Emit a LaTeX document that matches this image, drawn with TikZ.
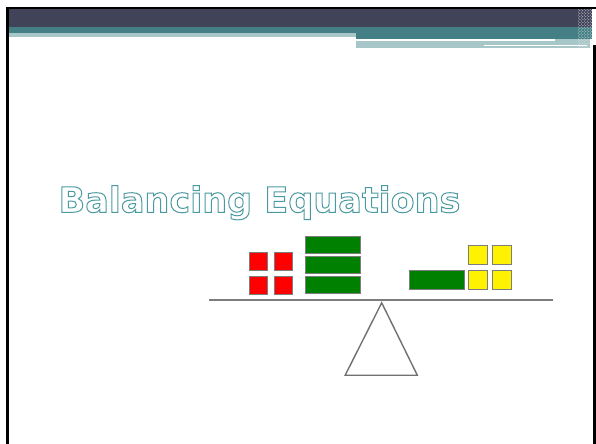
\documentclass[tikz,border=0pt]{standalone}
\usepackage{fontspec}
\newfontfamily\titlefont{DejaVu Sans}
\usetikzlibrary{positioning, patterns}
\definecolor{barslate}{RGB}{65,67,89}
\definecolor{barteal}{RGB}{67,127,132}
\definecolor{barlight}{RGB}{166,198,200}
\definecolor{titleteal}{RGB}{74,154,162}
\definecolor{blockgreen}{RGB}{0,128,0}
\definecolor{edgegray}{RGB}{125,125,125}

\begin{document}
\begin{tikzpicture}[
		x=1bp, y=-1bp,
		node distance = 6.6bp,
		tile/.style     = {draw=edgegray, line width=0.8bp, inner sep=0pt, outer sep=0pt},
		redsq/.style    = {tile, fill=red, minimum width=18.4bp, minimum height=18bp},
		greenbar/.style = {tile, fill=blockgreen, minimum width=54.3bp, minimum height=16.7bp},
		yellowsq/.style = {tile, fill=yellow, minimum width=19.4bp, minimum height=18.3bp},
		beam/.style     = {draw=edgegray, line width=1.8bp},
		fulcrum/.style  = {draw=edgegray!90!black, line width=1.4bp, line join=miter},
		frame/.style    = {draw=black, line width=2.6bp}
		]
		
		\useasboundingbox (0,0) rectangle (596,444);
		\fill[white] (0,0) rectangle (596,444);
		
		%% ── Header bars ───────────────────────────────────────────────
		\fill[barslate] (8,9) rectangle (592,27.3);
		\fill[barteal]  (8,27.3) rectangle (356,33.2);
		\fill[barteal]  (356,27.3) rectangle (592,38.6);
		\fill[barlight] (8,33.2) rectangle (356,36.8);
		\fill[barlight] (356,38.6) rectangle (590,47.6);
		\fill[white]    (356,39.3) rectangle (555,40.8);
		\fill[white]    (484,45) rectangle (587,46.2);
		\fill[pattern=crosshatch dots, pattern color=white!80!gray] (578,9) rectangle (592,48);
		
		% slide frame
		\draw[frame] (7.3,444) -- (7.3,7.9) -- (596,7.9);
		\draw[frame] (594.6,45) -- (594.6,444);
		
		%% ── Title ─────────────────────────────────────────────────────
		\node[anchor=base west, inner sep=0pt, text=titleteal,
		font=\titlefont\bfseries\fontsize{35bp}{40bp}\selectfont] (title) at (58.4,212.3)
		{\special{pdf:literal direct 1 Tr 1 w}Balancing Equations\special{pdf:literal direct 0 Tr}};
		
		%% ── Left pan ──────────────────────────────────────────────────
		\node[redsq] (r1) at (258.5,261.2) {};
		\node[redsq, right=of r1] (r2) {};
		\node[redsq, below=of r1] (r3) {};
		\node[redsq, below=of r2] (r4) {};
		
		\node[greenbar] (g1) at (333,245.2) {};
		\node[greenbar, below=3.3bp of g1] (g2) {};
		\node[greenbar, below=3.3bp of g2] (g3) {};
		
		%% ── Right pan ─────────────────────────────────────────────────
		\node[greenbar, minimum width=55.3bp, minimum height=18.3bp] (g4) at (436.7,279.8) {};
		\node[yellowsq, right=4bp of g4] (y3) {};
		\node[yellowsq, right=4.6bp of y3] (y4) {};
		\node[yellowsq, above=6.6bp of y3] (y1) {};
		\node[yellowsq, above=6.6bp of y4] (y2) {};
		
		%% ── Beam and fulcrum ──────────────────────────────────────────
		\coordinate (beamL) at (209,300);
		\coordinate (beamR) at (553,300);
		\draw[beam] (beamL) -- (beamR);
		
		\coordinate (apex)  at (381.7,302.8);
		\coordinate (baseL) at (345.2,375.2);
		\coordinate (baseR) at (417.3,375.2);
		\draw[fulcrum] (apex) -- (baseR) -- (baseL) -- cycle;
		
	\end{tikzpicture}
\end{document}
